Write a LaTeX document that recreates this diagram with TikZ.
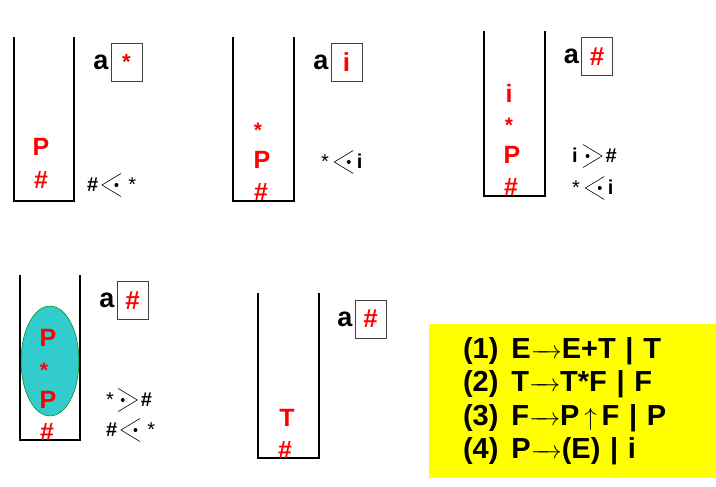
\documentclass[tikz,border=0pt]{standalone}
\usepackage{fontspec}
\setmainfont{Liberation Sans}
\usetikzlibrary{positioning}
\definecolor{stk}{HTML}{FF0000}
\definecolor{blob}{HTML}{33CCCC}
\definecolor{rulebg}{HTML}{FFFF00}

% precedence marks: thin angle with a fat dot
\newcommand{\lessrel}{\tikz[x=1pt,y=1pt,baseline=-6.5pt,line width=0.6pt]{\draw (19,11.5) -- (0,0) -- (19,-11.5); \fill (14.5,0) circle (2pt);}}
\newcommand{\morerel}{\tikz[x=1pt,y=1pt,baseline=-6.5pt,line width=0.6pt]{\draw (0,11.5) -- (19,0) -- (0,-11.5); \fill (4.5,0) circle (2pt);}}
\newcommand{\goesto}{\makebox[31pt]{\rightarrowfill}}

\begin{document}
\begin{tikzpicture}[
    x=1pt, y=-1pt,
    wall/.style={draw=black, line width=1.6pt},
    sym/.style={text=stk, font=\bfseries\fontsize{25}{25}\selectfont, inner sep=0pt},
    ast/.style={text=stk, font=\bfseries\fontsize{21}{21}\selectfont, inner sep=0pt},
    inbox/.style={draw=black!75, line width=0.8pt, minimum width=31pt, minimum height=38pt, inner sep=0pt, text=stk, font=\bfseries\fontsize{26}{26}\selectfont},
    look/.style={font=\bfseries\fontsize{27}{27}\selectfont, inner sep=0pt},
    rel/.style={font=\bfseries\fontsize{20}{20}\selectfont, inner sep=0pt, anchor=west},
    rulebox/.style={fill=rulebg, minimum width=287pt, minimum height=154pt, text width=219pt, inner xsep=34pt, align=left, font=\bfseries\fontsize{29}{33.5}\selectfont},
  ]
  \useasboundingbox (0,0) rectangle (716,487);
  % ------------------------------------------------------------------ stack 1: # P, look-ahead *
  \draw[wall] (14,37) |- (74,201) -- (74,37);
  \node[sym] (p1) at (41,147) {P};
  \node[sym] (h1) at (41,180) {\#};
  \node[inbox] (b1) at (126.5,62) {\fontsize{22}{22}\selectfont *};
  \node[look, left=2pt of b1] (a1) {a};
  \node[rel] (r1) at (87,185) {\#\,\lessrel\hspace{7pt}{\mdseries *}};
  % ------------------------------------------------------------------ stack 2: # P *, look-ahead i
  \draw[wall] (233,37) |- (294,201) -- (294,37);
  \node[ast] (s2) at (258,130) {*};
  \node[sym] (p2) at (262,160) {P};
  \node[sym] (h2) at (261,192) {\#};
  \node[inbox] (b2) at (346.5,62.5) {i};
  \node[look, left=2pt of b2] (a2) {a};
  \node[rel] (r2) at (321,162) {{\mdseries *}\hspace{5pt}\lessrel\,i};
  % ------------------------------------------------------------------ stack 3: # P * i, look-ahead #
  \draw[wall] (484,31) |- (545,196) -- (545,31);
  \node[sym] (i3) at (509,93) {i};
  \node[ast] (s3) at (509,125) {*};
  \node[sym] (p3) at (512,155) {P};
  \node[sym] (h3) at (511,187) {\#};
  \node[inbox] (b3) at (597,56.5) {\#};
  \node[look, left=2pt of b3] (a3) {a};
  \node[rel] (r3) at (572,156) {i\hspace{5pt}\morerel\,\#};
  \node[rel] (r4) at (572,188) {{\mdseries *}\hspace{5pt}\lessrel\,i};
  % ------------------------------------------------------------------ stack 4: handle P*P reduced
  \draw[wall] (20,275) |- (80,440) -- (80,275);
  \draw[fill=blob, draw=green!50!black, line width=0.5pt] (50,361) ellipse (29pt and 55pt);
  \node[sym] (p4) at (48,338) {P};
  \node[ast] (s4) at (44,370) {*};
  \node[sym] (q4) at (48,400) {P};
  \node[sym] (h4) at (47,432) {\#};
  \node[inbox] (b4) at (132.5,300.5) {\#};
  \node[look, left=2pt of b4] (a4) {a};
  \node[rel] (r5) at (106,400) {{\mdseries *}\hspace{4pt}\morerel\,\#};
  \node[rel] (r6) at (106,430) {\#\,\lessrel\hspace{7pt}{\mdseries *}};
  % ------------------------------------------------------------------ stack 5: # T
  \draw[wall] (258,293) |- (319,458) -- (319,293);
  \node[sym] (t5) at (287,418) {T};
  \node[sym] (h5) at (285,450) {\#};
  \node[inbox] (b5) at (370.5,319) {\#};
  \node[look, left=2pt of b5] (a5) {a};
  % ------------------------------------------------------------------ grammar
  \node[rulebox] (rules) at (572.5,401) {%
    (1)\hspace{0.45em}E\goesto E+T | T\\
    (2)\hspace{0.45em}T\goesto T*F | F\\
    (3)\hspace{0.45em}F\goesto P\,$\uparrow$\,F | P\\
    (4)\hspace{0.45em}P\goesto(E) | i};
\end{tikzpicture}
\end{document}
